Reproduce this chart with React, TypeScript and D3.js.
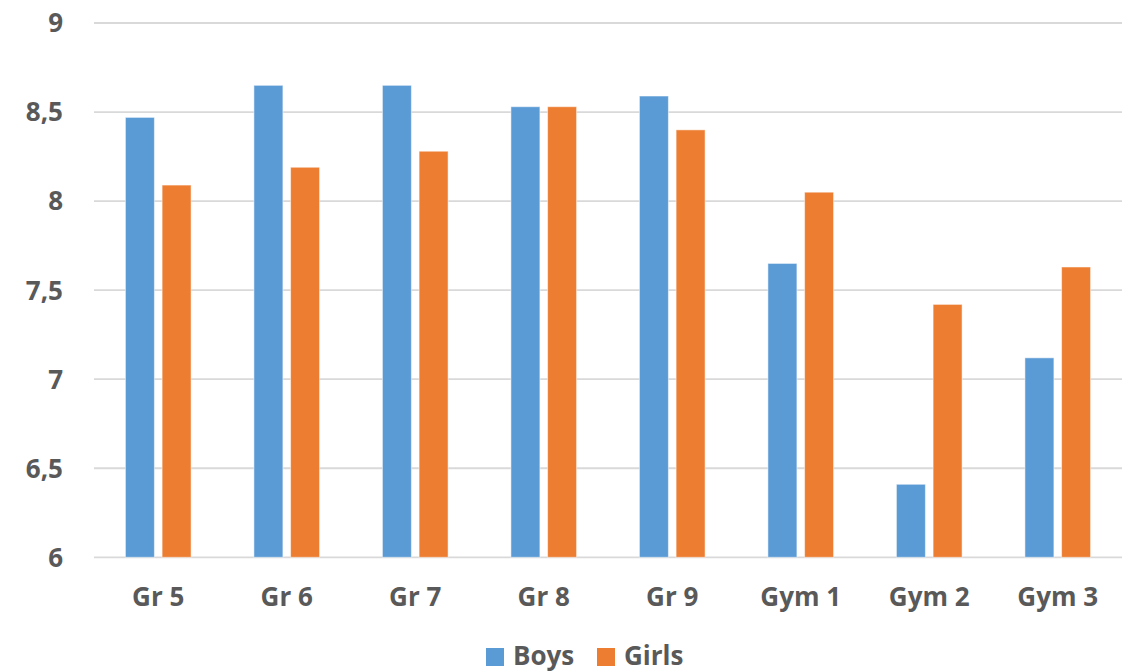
import React from 'react';
import * as d3 from 'd3';

const categories = ['Gr 5', 'Gr 6', 'Gr 7', 'Gr 8', 'Gr 9', 'Gym 1', 'Gym 2', 'Gym 3'];
const seriesNames = ['Boys', 'Girls'];
const boys = [8.47, 8.65, 8.65, 8.53, 8.59, 7.65, 6.41, 7.12];
const girls = [8.09, 8.19, 8.28, 8.53, 8.40, 8.05, 7.42, 7.63];
const yTicks = [6, 6.5, 7, 7.5, 8, 8.5, 9];

const colors = ['#5B9BD5', '#ED7D31'];
const textColor = '#595959';
const font = '"Open Sans", "DejaVu Sans", sans-serif';

const App: React.FC = () => {
  const width = 1132;
  const height = 672;

  const x = d3.scaleBand<string>()
    .domain(categories)
    .range([94, 1122])
    .paddingInner(0.489)
    .paddingOuter(0.2445);

  const xSub = d3.scaleBand<string>()
    .domain(seriesNames)
    .range([0, x.bandwidth()])
    .paddingInner(0.21);

  const y = d3.scaleLinear().domain([6, 9]).range([557.3, 23]);

  const series = [boys, girls];
  const fmt = (v: number) => String(v).replace('.', ',');

  return (
    <svg width={width} height={height} style={{ position: 'absolute', left: 0, top: 0, background: '#fff' }}>
      {/* gridlines */}
      {yTicks.map(t => (
        <line key={t} x1={94} x2={1122} y1={y(t)} y2={y(t)} stroke="#D9D9D9" strokeWidth={1.8} />
      ))}

      {/* y labels */}
      {yTicks.map(t => (
        <text key={t} x={63} y={y(t)} dy="0.36em" textAnchor="end"
          fontFamily={font} fontWeight="bold" fontSize={26} fill={textColor}>
          {fmt(t)}
        </text>
      ))}

      {/* bars */}
      {categories.map((c, i) => (
        <g key={c} transform={`translate(${x(c)},0)`}>
          {seriesNames.map((s, j) => (
            <rect key={s}
              x={xSub(s)}
              y={y(series[j][i])}
              width={xSub.bandwidth()}
              height={y(6) - y(series[j][i])}
              fill={colors[j]}
              stroke="#fff"
              strokeOpacity={0.5}
              strokeWidth={1} />
          ))}
        </g>
      ))}

      {/* x labels */}
      {categories.map(c => (
        <text key={c} x={(x(c) ?? 0) + x.bandwidth() / 2} y={606} textAnchor="middle"
          fontFamily={font} fontWeight="bold" fontSize={26} fill={textColor}>
          {c}
        </text>
      ))}

      {/* legend */}
      {seriesNames.map((s, j) => {
        const lx = j === 0 ? 486 : 597;
        return (
          <g key={s}>
            <rect x={lx} y={648} width={18} height={18} fill={colors[j]} />
            <text x={lx + 27} y={665} fontFamily={font} fontWeight="bold" fontSize={26} fill={textColor}>
              {s}
            </text>
          </g>
        );
      })}
    </svg>
  );
};

export default App;
